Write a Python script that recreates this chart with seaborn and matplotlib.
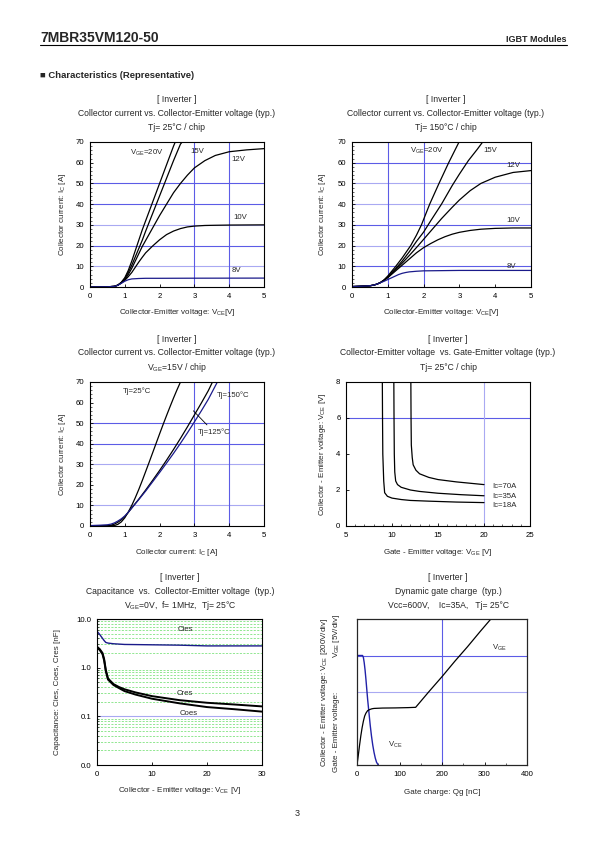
import matplotlib
matplotlib.use("Agg")
import matplotlib.pyplot as plt
from matplotlib.lines import Line2D
from matplotlib.ticker import AutoMinorLocator, FixedLocator, NullFormatter, LogLocator
import seaborn as sns
import numpy as np

# ---------------- data ----------------
# Chart 1: Tj=25C, Ic vs Vce for several Vge
vce25_20 = [0, 0.5, 0.7, 0.8, 0.9, 1.0, 1.1, 1.2, 1.3, 1.4, 1.5, 1.6, 1.8, 2.0, 2.2, 2.4, 2.45]
ic25_20 = [0, 0.1, 0.3, 0.9, 2.3, 4.5, 8.0, 12.5, 17.5, 22.5, 27.5, 32, 41, 50, 59, 68, 70]
vce25_15 = [0, 0.5, 0.7, 0.8, 0.9, 1.0, 1.1, 1.2, 1.3, 1.4, 1.5, 1.6, 1.8, 2.0, 2.2, 2.4, 2.6, 2.65]
ic25_15 = [0, 0.1, 0.3, 0.9, 2.1, 4.0, 7.0, 10.5, 14.5, 18.5, 22.5, 27, 35.5, 44, 52.5, 61, 69, 70]
vce25_12 = [0, 0.5, 0.7, 0.8, 0.9, 1.0, 1.1, 1.2, 1.3, 1.4, 1.5, 1.6, 1.8, 2.0, 2.2, 2.4, 2.6, 2.8, 3.0, 3.3, 3.6, 4.0, 4.5, 5.0]
ic25_12 = [0, 0.1, 0.3, 0.9, 2.0, 3.5, 6.0, 9.0, 12.5, 16, 19.5, 22.5, 28.5, 34.5, 40, 45.5, 50, 54, 57.5, 61, 63.5, 65.3, 66.2, 66.8]
vce25_10 = [0, 0.5, 0.7, 0.8, 0.9, 1.0, 1.1, 1.2, 1.3, 1.4, 1.5, 1.6, 1.8, 2.0, 2.2, 2.4, 2.6, 2.8, 3.0, 3.3, 3.6, 4.0, 5.0]
ic25_10 = [0, 0.1, 0.3, 0.9, 1.9, 3.2, 5.0, 7.0, 9.5, 12, 14.3, 16.5, 19.8, 22.8, 25.3, 27, 28.2, 29, 29.4, 29.7, 29.8, 29.9, 30]
vce25_8 = [0, 0.5, 0.7, 0.8, 0.9, 1.0, 1.1, 1.2, 1.4, 1.6, 2.0, 3.0, 5.0]
ic25_8 = [0, 0.1, 0.3, 0.8, 1.8, 2.8, 3.5, 3.9, 4.1, 4.2, 4.2, 4.25, 4.3]

# Chart 2: Tj=150C
vce150_20 = [0, 0.3, 0.5, 0.6, 0.7, 0.8, 0.9, 1.0, 1.2, 1.4, 1.64, 1.8, 1.94, 2.17, 2.43, 2.7, 2.99]
ic150_20 = [0.2, 0.4, 0.6, 0.9, 1.4, 2.2, 3.5, 5.3, 9.5, 14, 20, 25, 30, 40, 50, 60, 70]
vce150_15 = [0, 0.3, 0.5, 0.6, 0.7, 0.8, 0.9, 1.0, 1.2, 1.4, 1.6, 1.8, 2.0, 2.2, 2.5, 2.8, 3.0, 3.25, 3.5, 3.65]
ic150_15 = [0.2, 0.4, 0.6, 0.9, 1.4, 2.2, 3.4, 5.0, 8.5, 12.5, 17, 22, 26.5, 32, 40, 49, 54.5, 61, 66.5, 70]
vce150_12 = [0, 0.3, 0.5, 0.6, 0.7, 0.8, 0.9, 1.0, 1.2, 1.4, 1.6, 1.85, 2.0, 2.2, 2.5, 2.8, 3.0, 3.3, 3.6, 4.0, 4.5, 5.0]
ic150_12 = [0.2, 0.4, 0.6, 0.9, 1.4, 2.2, 3.3, 4.7, 8.0, 11.5, 15.2, 20, 23, 27, 33, 38.5, 42, 46.5, 50, 53, 55.3, 56.2]
vce150_10 = [0, 0.3, 0.5, 0.6, 0.7, 0.8, 0.9, 1.0, 1.2, 1.4, 1.6, 1.8, 2.0, 2.2, 2.4, 2.6, 2.8, 3.0, 3.3, 3.6, 4.0, 4.5, 5.0]
ic150_10 = [0.2, 0.4, 0.6, 0.9, 1.4, 2.2, 3.2, 4.5, 7.5, 10.5, 13.5, 16.5, 19, 21, 22.8, 24.3, 25.5, 26.4, 27.3, 27.9, 28.3, 28.5, 28.5]
vce150_8 = [0, 0.3, 0.5, 0.6, 0.7, 0.8, 0.9, 1.0, 1.1, 1.2, 1.3, 1.4, 1.5, 1.6, 1.8, 2.0, 2.5, 3.0, 4.0, 5.0]
ic150_8 = [0.2, 0.4, 0.6, 0.9, 1.4, 2.1, 2.8, 3.6, 4.4, 5.2, 6.0, 6.6, 7.0, 7.3, 7.6, 7.8, 7.9, 8.0, 8.0, 8.0]

# Chart 3: Vge=15V, various Tj
vce_tj25 = [0, 0.5, 0.7, 0.8, 0.9, 1.0, 1.1, 1.2, 1.3, 1.4, 1.5, 1.6, 1.7, 1.8, 1.9, 2.0, 2.1, 2.2, 2.3, 2.4, 2.5, 2.6]
ic_tj25 = [0, 0.05, 0.2, 0.8, 2.0, 4.0, 6.8, 10, 13.7, 17.7, 22, 26.5, 31, 35.6, 40.2, 44.8, 49.3, 53.7, 58, 62.2, 66.2, 70]
vce_tj125 = [0, 0.5, 0.6, 0.7, 0.8, 0.9, 1.0, 1.1, 1.2, 1.4, 1.6, 1.8, 2.0, 2.2, 2.4, 2.6, 2.8, 3.0, 3.2, 3.4, 3.52]
ic_tj125 = [0, 0.15, 0.4, 0.9, 1.8, 3.0, 4.6, 6.6, 8.8, 13, 17.5, 22.2, 27, 32, 37.2, 42.6, 48.2, 54, 59.8, 65.8, 70]
vce_tj150 = [0, 0.3, 0.5, 0.6, 0.7, 0.8, 0.9, 1.0, 1.1, 1.2, 1.4, 1.6, 1.8, 2.0, 2.2, 2.4, 2.6, 2.8, 3.0, 3.2, 3.4, 3.66]
ic_tj150 = [0.2, 0.4, 0.6, 0.9, 1.5, 2.4, 3.5, 4.9, 6.7, 8.7, 12.8, 17, 21.5, 26, 30.6, 35.3, 40.2, 45.3, 50.6, 56, 61.6, 70]

# Chart 4: Vce vs Vge
vge_18 = [8.95, 8.97, 9.0, 9.1, 9.2, 9.5, 10, 11, 12, 14, 17, 20]
vce_18 = [8, 6, 4, 2.5, 1.85, 1.65, 1.55, 1.47, 1.42, 1.38, 1.33, 1.3]
vge_35 = [10.2, 10.22, 10.25, 10.3, 10.4, 10.6, 11, 12, 13, 15, 17.5, 20]
vce_35 = [8, 6, 4, 3, 2.5, 2.3, 2.15, 2.0, 1.92, 1.82, 1.74, 1.68]
vge_70 = [12.05, 12.07, 12.1, 12.2, 12.3, 12.6, 13, 14, 15, 17, 20]
vce_70 = [8, 6, 4.5, 3.8, 3.4, 3.1, 2.9, 2.7, 2.58, 2.45, 2.3]

# Chart 5: capacitance
vce_cap = [0, 0.5, 1.0, 1.3, 1.6, 2, 3, 4, 5, 7, 10, 15, 20, 25, 30]
cies = [5.6, 4.8, 4.0, 3.6, 3.3, 3.2, 3.1, 3.05, 3.0, 2.98, 2.95, 2.9, 2.8, 2.8, 2.8]
coes = [2.7, 2.4, 2.0, 1.5, 0.9, 0.6, 0.46, 0.4, 0.36, 0.31, 0.26, 0.215, 0.19, 0.175, 0.16]
cres = [2.6, 2.3, 1.9, 1.4, 0.85, 0.57, 0.44, 0.38, 0.33, 0.28, 0.23, 0.185, 0.155, 0.14, 0.125]

# Chart 6: gate charge
qg_vce = [0, 13, 15, 17, 19, 21, 23, 25, 28, 31, 34, 37, 40, 43, 46, 50]
vce_gc = [600, 600, 590, 560, 520, 470, 415, 360, 290, 220, 160, 110, 70, 38, 15, 0]
qg_vge = [0, 3, 6, 9, 12, 15, 18, 21, 25, 30, 35, 40, 60, 90, 120, 138, 170, 200, 230, 260, 290, 315]
vge_gc = [0, 1.3, 2.7, 4.0, 5.1, 6.0, 6.7, 7.1, 7.45, 7.6, 7.7, 7.75, 7.8, 7.82, 7.86, 7.9, 10.1, 12.1, 14.2, 16.2, 18.3, 20.0]

# ---------------- style ----------------
sns.set_theme(style="ticks")
plt.rcParams['font.family'] = ['Liberation Sans', 'DejaVu Sans']
plt.rcParams['mathtext.default'] = 'regular'
plt.rcParams['axes.linewidth'] = 0.8

W, H = 595.0, 842.0
fig = plt.figure(figsize=(5.95, 8.42), dpi=100)
fig.patch.set_facecolor('white')

NAVY = '#1a1a8a'
GRID_D = '#5c5ce6'
GRID_L = '#a9a9f2'
FS = 6.2     # titles
LFS = 5.8    # axis labels
TFS = 5.6    # tick labels / annotations


def make_ax(l, t, r, b):
    ax = fig.add_axes([l / W, 1 - b / H, (r - l) / W, (b - t) / H])
    ax.set_facecolor('white')
    for s in ax.spines.values():
        s.set_color('black')
        s.set_linewidth(0.8)
    ax.tick_params(direction='in', length=2.5, width=0.6, labelsize=TFS, pad=4, colors='black')
    ax.tick_params(which='minor', direction='in', length=1.5, width=0.5)
    return ax


def titles(cx, ytop, lines):
    for i, s in enumerate(lines):
        fig.text(cx / W, 1 - (ytop + i * 14) / H, s, ha='center', va='center', fontsize=FS)


def labels(ax, xl, yl, wpx, hpx, xoff=26, yoff=28):
    ax.set_xlabel(xl, fontsize=LFS, va='center')
    ax.set_ylabel(yl, fontsize=LFS, va='center')
    ax.xaxis.set_label_coords(0.5, -xoff / hpx)
    ax.yaxis.set_label_coords(-yoff / wpx, 0.5)


def line(ax, x, y, color='black', lw=0.9):
    sns.lineplot(x=x, y=y, ax=ax, color=color, linewidth=lw, sort=False, estimator=None)


def txt(ax, x, y, s, ha='left'):
    ax.text(x, y, s, fontsize=TFS, ha=ha, va='center')


# ---------------- header ----------------
fig.text(40 / W, 1 - 38 / H, '7MBR35VM120-50', fontsize=10, fontweight='bold', va='center', ha='left')
fig.text(567 / W, 1 - 39 / H, 'IGBT Modules', fontsize=6.5, fontweight='bold', va='center', ha='right')
fig.add_artist(Line2D([40 / W, 567 / W], [1 - 45 / H, 1 - 45 / H], color='black', lw=0.8))
fig.text(40 / W, 1 - 75 / H, '■ Characteristics (Representative)', fontsize=6.8, fontweight='bold',
         va='center', ha='left', family=['Liberation Sans', 'DejaVu Sans'])
fig.text(297 / W, 1 - 814 / H, '3', fontsize=6.5, ha='center', va='center')

# ---------------- chart 1 ----------------
ax = make_ax(90, 142, 264, 287)
for yv, c in [(10, GRID_L), (20, GRID_D), (30, GRID_L), (40, GRID_D), (50, GRID_D)]:
    ax.axhline(yv, color=c, lw=0.8, zorder=0)
for xv in [3, 4]:
    ax.axvline(xv, color=GRID_D, lw=0.8, zorder=0)
line(ax, vce25_20, ic25_20)
line(ax, vce25_15, ic25_15)
line(ax, vce25_12, ic25_12)
line(ax, vce25_10, ic25_10)
line(ax, vce25_8, ic25_8, color=NAVY)
ax.set_xlim(0, 5); ax.set_ylim(0, 70)
ax.set_xticks(range(0, 6)); ax.set_yticks(range(0, 71, 10))
ax.yaxis.set_minor_locator(AutoMinorLocator(5))
txt(ax, 1.15, 64.7, 'V$_{GE}$=20V')
txt(ax, 2.87, 65.5, '15V')
txt(ax, 4.07, 61.4, '12V')
txt(ax, 4.12, 33.6, '10V')
txt(ax, 4.07, 8.0, '8V')
labels(ax, 'Collector-Emitter voltage: V$_{CE}$[V]', 'Collector current: I$_C$ [A]', 174, 145)
titles(177, 99, ['[ Inverter ]', 'Collector current vs. Collector-Emitter voltage (typ.)', 'Tj= 25°C / chip'])

# ---------------- chart 2 ----------------
ax = make_ax(352, 142, 531, 287)
for yv, c in [(10, GRID_D), (20, GRID_L), (30, GRID_D), (40, GRID_L), (50, GRID_L), (60, GRID_D)]:
    ax.axhline(yv, color=c, lw=0.8, zorder=0)
for xv in [1, 2]:
    ax.axvline(xv, color=GRID_D, lw=0.8, zorder=0)
line(ax, vce150_20, ic150_20)
line(ax, vce150_15, ic150_15)
line(ax, vce150_12, ic150_12)
line(ax, vce150_10, ic150_10)
line(ax, vce150_8, ic150_8, color=NAVY)
ax.set_xlim(0, 5); ax.set_ylim(0, 70)
ax.set_xticks(range(0, 6)); ax.set_yticks(range(0, 71, 10))
ax.yaxis.set_minor_locator(AutoMinorLocator(5))
txt(ax, 1.62, 65.8, 'V$_{GE}$=20V')
txt(ax, 3.67, 65.8, '15V')
txt(ax, 4.32, 58.5, '12V')
txt(ax, 4.32, 32.3, '10V')
txt(ax, 4.32, 10.0, '8V')
labels(ax, 'Collector-Emitter voltage: V$_{CE}$[V]', 'Collector current: I$_C$ [A]', 179, 145, yoff=29)
titles(446, 99, ['[ Inverter ]', 'Collector current vs. Collector-Emitter voltage (typ.)', 'Tj= 150°C / chip'])

# ---------------- chart 3 ----------------
ax = make_ax(90, 382, 264, 526)
for yv, c in [(10, GRID_L), (30, GRID_L), (40, GRID_D), (50, GRID_D)]:
    ax.axhline(yv, color=c, lw=0.8, zorder=0)
for xv in [3, 4]:
    ax.axvline(xv, color=GRID_D, lw=0.8, zorder=0)
line(ax, vce_tj25, ic_tj25)
line(ax, vce_tj125, ic_tj125)
line(ax, vce_tj150, ic_tj150, color=NAVY)
ax.set_xlim(0, 5); ax.set_ylim(0, 70)
ax.set_xticks(range(0, 6)); ax.set_yticks(range(0, 71, 10))
ax.yaxis.set_minor_locator(AutoMinorLocator(5))
txt(ax, 0.94, 65.5, 'Tj=25°C')
txt(ax, 3.64, 63.5, 'Tj=150°C')
ax.annotate('Tj=125°C', xy=(2.97, 56.0), xytext=(3.09, 45.7), fontsize=TFS, va='center', ha='left',
            arrowprops=dict(arrowstyle='-', lw=0.6, color='black', shrinkA=0, shrinkB=0))
labels(ax, 'Collector current: I$_C$ [A]', 'Collector current: I$_C$ [A]', 174, 144)
titles(177, 339, ['[ Inverter ]', 'Collector current vs. Collector-Emitter voltage (typ.)', 'V$_{GE}$=15V / chip'])

# ---------------- chart 4 ----------------
ax = make_ax(346, 382, 530, 526)
ax.axhline(6, color=GRID_D, lw=0.8, zorder=0)
ax.axvline(20, color=GRID_L, lw=0.8, zorder=0)
line(ax, vge_18, vce_18)
line(ax, vge_35, vce_35)
line(ax, vge_70, vce_70)
ax.set_xlim(5, 25); ax.set_ylim(0, 8)
ax.set_xticks(range(5, 26, 5)); ax.set_yticks(range(0, 9, 2))
ax.xaxis.set_minor_locator(AutoMinorLocator(5))
txt(ax, 20.9, 2.18, 'Ic=70A')
txt(ax, 20.9, 1.66, 'Ic=35A')
txt(ax, 20.9, 1.16, 'Ic=18A')
labels(ax, 'Gate - Emitter voltage: V$_{GE}$ [V]', 'Collector - Emitter voltage: V$_{CE}$ [V]', 184, 144, yoff=23)
titles(448, 339, ['[ Inverter ]', 'Collector-Emitter voltage  vs. Gate-Emitter voltage (typ.)', 'Tj= 25°C / chip'])

# ---------------- chart 5 ----------------
ax = make_ax(97, 619, 262, 765)
ax.set_yscale('log')
ax.set_xlim(0, 30); ax.set_ylim(0.01, 10)
ax.yaxis.set_major_locator(FixedLocator([0.01, 0.1, 1, 10]))
ax.set_yticklabels(['0.0', '0.1', '1.0', '10.0'])
ax.yaxis.set_minor_locator(LogLocator(base=10, subs=np.arange(2, 10)))
ax.yaxis.set_minor_formatter(NullFormatter())
ax.grid(which='minor', axis='y', color='#66dd66', lw=0.5, ls=(0, (3, 2)))
ax.axhline(0.1, color=GRID_L, lw=0.8, zorder=0)
ax.set_xticks([0, 10, 20, 30])
line(ax, vce_cap, cies, color=NAVY, lw=1.0)
line(ax, vce_cap, coes, lw=1.4)
line(ax, vce_cap, cres, lw=1.4)
txt(ax, 16.0, 6.2, 'Cies', ha='center')
txt(ax, 16.0, 0.29, 'Cres', ha='center')
txt(ax, 16.6, 0.112, 'Coes', ha='center')
labels(ax, 'Collector - Emitter voltage: V$_{CE}$ [V]', 'Capacitance: Cies, Coes, Cres [nF]', 165, 146, yoff=39)
titles(180, 578, ['[ Inverter ]', 'Capacitance  vs.  Collector-Emitter voltage  (typ.)',
                  'V$_{GE}$=0V,  f= 1MHz,  Tj= 25°C'])

# ---------------- chart 6 ----------------
ax = make_ax(357, 619, 527, 765)
ax.axhline(600, color=GRID_D, lw=0.8, zorder=0)
ax.axhline(400, color=GRID_L, lw=0.8, zorder=0)
ax.axvline(200, color=GRID_D, lw=0.8, zorder=0)
line(ax, qg_vce, vce_gc, color='#2222a8', lw=1.0)
ax.set_xlim(0, 400); ax.set_ylim(0, 800)
ax.set_xticks(range(0, 401, 100))
ax.xaxis.set_minor_locator(AutoMinorLocator(2))
ax.set_yticks([])
ax2 = ax.twinx()
line(ax2, qg_vge, vge_gc, lw=0.9)
ax2.set_ylim(0, 20)
ax2.set_yticks([])
ax2.set_ylabel('')
ax.set_xlabel('Gate charge: Qg [nC]', fontsize=LFS, va='center')
ax.xaxis.set_label_coords(0.5, -28 / 146)
ax.set_ylabel('')
ax.text(318, 615, 'V$_{GE}$', fontsize=TFS, ha='left', va='bottom')
ax.text(89, 110, 'V$_{CE}$', fontsize=TFS, ha='center', va='center')
fig.text(325 / W, 1 - 692 / H, 'Collector - Emitter voltage: V$_{CE}$ [200V/div]', rotation=90,
         fontsize=LFS, ha='center', va='center')
fig.text(337 / W, 1 - 772 / H, 'Gate - Emitter voltage:', rotation=90, rotation_mode='anchor',
         fontsize=LFS, ha='left', va='center')
fig.text(337 / W, 1 - 614 / H, 'V$_{GE}$ [5V/div]', rotation=90, rotation_mode='anchor',
         fontsize=LFS, ha='right', va='center')
titles(448, 578, ['[ Inverter ]', 'Dynamic gate charge  (typ.)', 'Vcc=600V,    Ic=35A,   Tj= 25°C'])

fig.savefig('out.png', dpi=100, facecolor='white')
